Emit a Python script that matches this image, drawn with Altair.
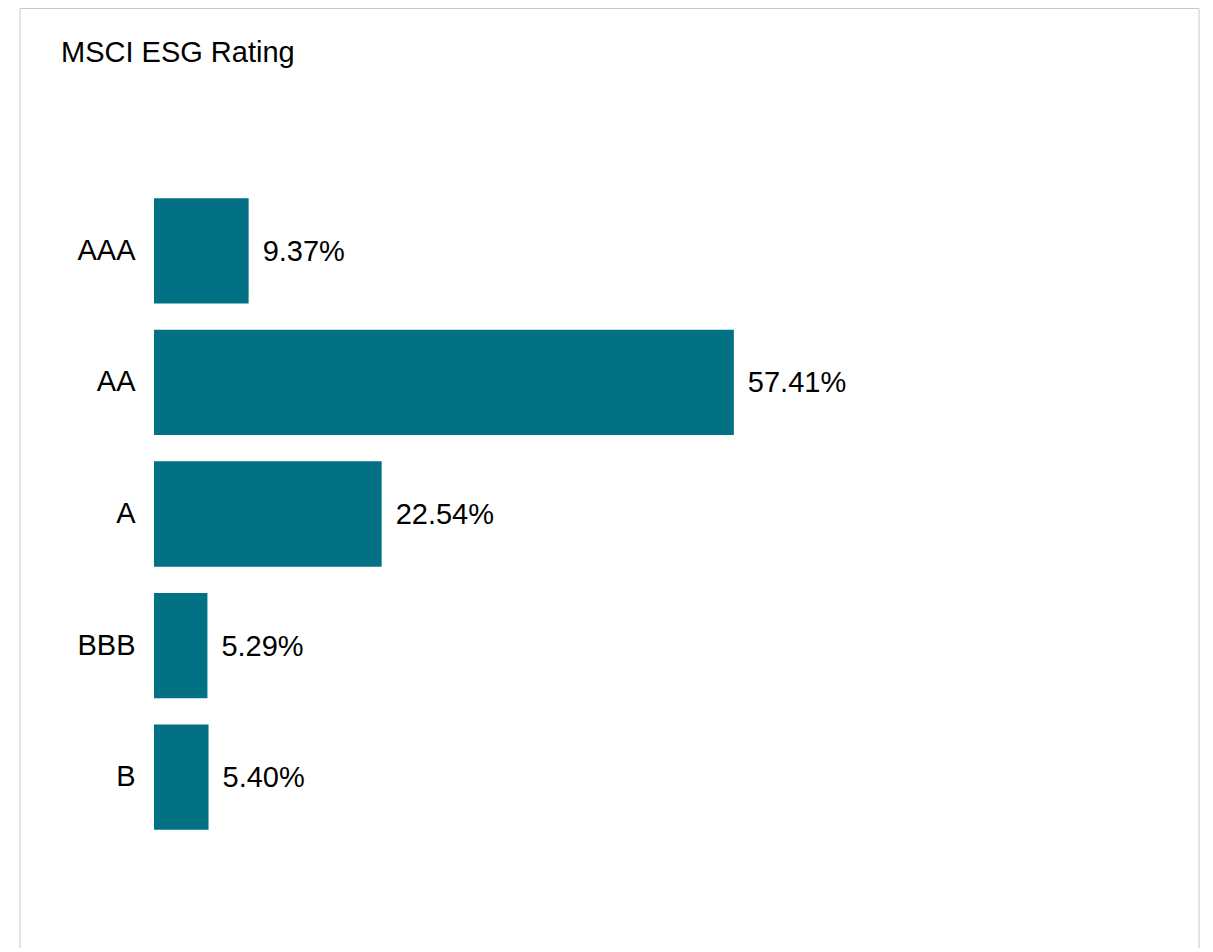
import altair as alt
import pandas as pd

ratings = ["AAA", "AA", "A", "BBB", "B"]
values = [9.37, 57.41, 22.54, 5.29, 5.40]

df = pd.DataFrame({"rating": ratings, "value": values})

FONT = "Liberation Sans"
BAR_COLOR = "#027184"

base = alt.Chart(df)

y_enc = alt.Y(
    "rating:N",
    sort=ratings,
    scale=alt.Scale(paddingInner=0.2, paddingOuter=0.1),
    axis=alt.Axis(
        title=None, ticks=False, domain=False, labelPadding=19,
        labelFontSize=29, labelFont=FONT, labelColor="black",
    ),
)
x_enc = alt.X("value:Q", scale=alt.Scale(domain=[0, 100], nice=False), axis=None)

border = base.mark_rect(fill=None, stroke="#c8c8c8", strokeWidth=1).encode(
    x=alt.value(-134), x2=alt.value(1045), y=alt.value(-176.5), y2=alt.value(900)
).transform_filter("datum.rating == 'AAA'")

bars = base.mark_bar(color=BAR_COLOR).encode(y=y_enc, x=x_enc)

labels = base.mark_text(
    align="left", baseline="middle", dx=14, dy=1, fontSize=29, font=FONT, color="black"
).transform_calculate(
    label="format(datum.value, '.2f') + '%'"
).encode(y=y_enc, x=x_enc, text="label:N")

chart = alt.layer(border, bars, labels).properties(
    width=1010,
    height=658,
    view=alt.ViewBackground(stroke="transparent", strokeWidth=0),
    title=alt.TitleParams(
        "MSCI ESG Rating", anchor="start", frame="group", fontSize=29,
        font=FONT, fontWeight="normal", color="black", dx=-93, dy=64,
    ),
    autosize=alt.AutoSizeParams(type="none"),
    padding={"left": 146, "top": 177, "right": 36, "bottom": 105},
).configure_view(stroke="transparent", strokeWidth=0).configure(background="white")

chart.save("out.html", embed_options={"renderer": "svg", "actions": False})
